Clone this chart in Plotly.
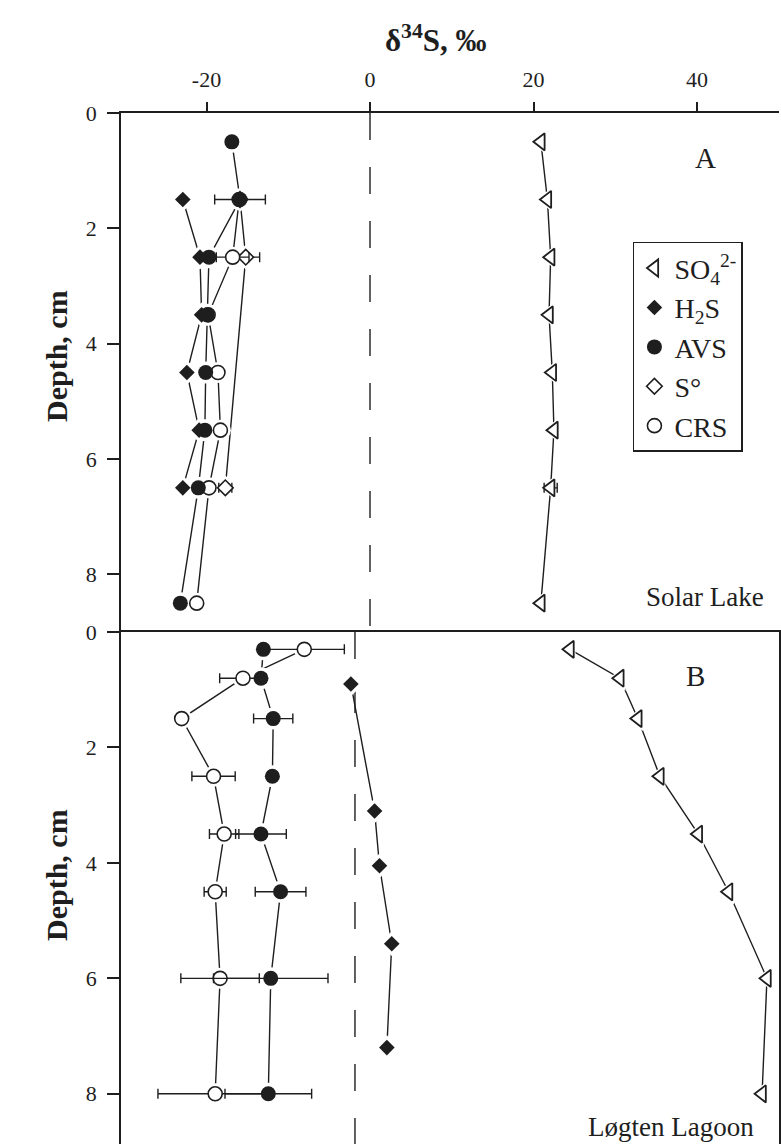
import plotly.graph_objects as go

# ---------------- Solar Lake (panel A) ----------------
depth_a_so4 = [0.5, 1.5, 2.5, 3.5, 4.5, 5.5, 6.5, 8.5]
so4_a = [20.9, 21.7, 22.1, 21.9, 22.3, 22.5, 22.1, 20.9]
so4_a_err = [0, 0, 0, 0, 0, 0, 0.8, 0]

depth_a_h2s = [1.5, 2.5, 3.5, 4.5, 5.5, 6.5]
h2s_a = [-22.9, -20.8, -20.6, -22.4, -20.9, -22.9]

depth_a_avs = [0.5, 1.5, 2.5, 3.5, 4.5, 5.5, 6.5, 8.5]
avs_a = [-16.9, -15.9, -19.7, -19.9, -20.1, -20.2, -21.0, -23.2]
avs_a_err = [0, 3.1, 0, 0, 0, 0, 0, 0]

depth_a_s0 = [1.5, 2.5, 6.5]
s0_a = [-15.9, -15.2, -17.7]
s0_a_err = [0, 1.7, 0.8]

depth_a_crs = [1.5, 2.5, 3.5, 4.5, 5.5, 6.5, 8.5]
crs_a = [-16.0, -16.8, -19.8, -18.6, -18.3, -19.7, -21.2]
crs_a_err = [0, 2.0, 0, 0, 0, 0, 0]

# ---------------- Løgten Lagoon (panel B) ----------------
depth_b = [0.3, 0.8, 1.5, 2.5, 3.5, 4.5, 6.0, 8.0]
so4_b = [26.3, 32.4, 34.6, 37.3, 42.0, 45.7, 50.4, 49.8]
avs_b = [-11.2, -11.5, -10.0, -10.1, -11.5, -9.1, -10.3, -10.6]
avs_b_err = [0, 0, 2.4, 0, 3.1, 3.1, 7.0, 5.3]
crs_b = [-6.2, -13.7, -21.2, -17.3, -16.0, -17.1, -16.5, -17.1]
crs_b_err = [4.9, 2.85, 0, 2.65, 1.8, 1.35, 4.8, 7.0]

depth_b_h2s = [0.9, 3.1, 4.05, 5.4, 7.2]
h2s_b = [-0.5, 2.4, 3.0, 4.5, 3.9]

# tick values and labels
x_ticks = [-20, 0, 20, 40]
x_tick_labels = ["-20", "0", "20", "40"]
depth_ticks = [0, 2, 4, 6, 8]

INK = "#1e1e1e"
SERIF = "Liberation Serif, Times New Roman, serif"

STYLE = {
    "SO4": dict(symbol="triangle-left", size=15, color="white", line=dict(color=INK, width=1.8)),
    "H2S": dict(symbol="diamond", size=12, color=INK, line=dict(color=INK, width=0)),
    "AVS": dict(symbol="circle", size=15, color=INK, line=dict(color=INK, width=0)),
    "S0": dict(symbol="diamond", size=12, color="white", line=dict(color=INK, width=1.6)),
    "CRS": dict(symbol="circle", size=14, color="white", line=dict(color=INK, width=1.6)),
}
NAMES = {
    "SO4": "SO<sub>4</sub><sup>2-</sup>",
    "H2S": "H<sub>2</sub>S",
    "AVS": "AVS",
    "S0": "S°",
    "CRS": "CRS",
}
RANK = {"SO4": 1, "H2S": 2, "AVS": 3, "S0": 4, "CRS": 5}

# (key, values, depths, errors, x-axis, y-axis)
series = [
    ("S0", s0_a, depth_a_s0, s0_a_err, "x", "y"),
    ("CRS", crs_a, depth_a_crs, crs_a_err, "x", "y"),
    ("SO4", so4_a, depth_a_so4, so4_a_err, "x", "y"),
    ("H2S", h2s_a, depth_a_h2s, None, "x", "y"),
    ("AVS", avs_a, depth_a_avs, avs_a_err, "x", "y"),
    ("CRS", crs_b, depth_b, crs_b_err, "x2", "y2"),
    ("SO4", so4_b, depth_b, None, "x2", "y2"),
    ("H2S", h2s_b, depth_b_h2s, None, "x2", "y2"),
    ("AVS", avs_b, depth_b, avs_b_err, "x2", "y2"),
]

fig = go.Figure()

# connecting lines
for key, vals, dep, err, xa, ya in series:
    fig.add_trace(go.Scatter(
        x=vals, y=dep, mode="lines", xaxis=xa, yaxis=ya,
        line=dict(color=INK, width=1.4), showlegend=False, hoverinfo="skip"))

# white halos leave a small gap between lines and symbols
for key, vals, dep, err, xa, ya in series:
    st = STYLE[key]
    fig.add_trace(go.Scatter(
        x=vals, y=dep, mode="markers", xaxis=xa, yaxis=ya,
        marker=dict(symbol=st["symbol"], size=st["size"] + 7, color="white",
                    line=dict(width=0)),
        showlegend=False, hoverinfo="skip"))

# symbols with horizontal error bars
shown = set()
for key, vals, dep, err, xa, ya in series:
    st = STYLE[key]
    err_cfg = dict(visible=False)
    if err is not None:
        err_cfg = dict(type="data", array=err, visible=True, color=INK,
                       thickness=1.4, width=5)
    fig.add_trace(go.Scatter(
        x=vals, y=dep, mode="markers", xaxis=xa, yaxis=ya,
        name=NAMES[key], legendrank=RANK[key],
        showlegend=key not in shown,
        marker=dict(symbol=st["symbol"], size=st["size"], color=st["color"], line=st["line"]),
        error_x=err_cfg))
    shown.add(key)

# zero reference lines
for xa, ya, ybot in [("x", "y", 9), ("x2", "y2", 8.87)]:
    fig.add_shape(type="line", xref=xa, yref=ya, x0=0, x1=0, y0=0, y1=ybot,
                  line=dict(color=INK, width=1.4, dash="27px,27px"), layer="below")

axis_common = dict(showgrid=False, zeroline=False, linecolor=INK, linewidth=1.5,
                   tickcolor=INK, tickwidth=1.5, tickfont=dict(family=SERIF, size=22, color=INK))

SPLIT = 0.4966

fig.update_layout(
    width=781, height=1144,
    margin=dict(l=121, r=2, t=113, b=0),
    paper_bgcolor="white", plot_bgcolor="white",
    font=dict(family=SERIF, size=22, color=INK),
    xaxis=dict(domain=[0, 1], range=[-30.46, 50.03], side="top", anchor="y",
               showline=True, ticks="outside", tickvals=x_ticks, ticktext=x_tick_labels,
               ticklen=9, ticklabelstandoff=6, **axis_common),
    yaxis=dict(domain=[SPLIT, 1], range=[9, 0], anchor="x", showline=True,
               ticks="outside", tickvals=depth_ticks, ticklen=12,
               ticklabelstandoff=6, **axis_common),
    xaxis2=dict(domain=[0, 1], range=[-28.62, 51.87], side="top", anchor="y2",
                showline=True, ticks="", showticklabels=False, **axis_common),
    yaxis2=dict(domain=[0, SPLIT], range=[8.87, 0], anchor="x2", showline=True,
                mirror=True, ticks="outside", tickvals=depth_ticks, ticklen=12,
                ticklabelstandoff=6, **axis_common),
    legend=dict(x=0.778, y=0.875, xanchor="left", yanchor="top",
                bordercolor=INK, borderwidth=1.5, bgcolor="white",
                font=dict(family=SERIF, size=28, color=INK),
                itemwidth=30, tracegroupgap=0, traceorder="normal"),
    showlegend=True,
)

# titles and panel labels
fig.add_annotation(text="<b>δ<sup>34</sup>S, ‰</b>", xref="paper", yref="paper",
                   x=0.4787, y=1.0727, showarrow=False, xanchor="center", yanchor="middle",
                   font=dict(family=SERIF, size=31, color=INK))
for ypos in (0.7643, 0.2609):
    fig.add_annotation(text="<b>Depth, cm</b>", xref="paper", yref="paper",
                       x=-0.0988, y=ypos, showarrow=False, textangle=-90,
                       xanchor="center", yanchor="middle",
                       font=dict(family=SERIF, size=30, color=INK))

fig.add_annotation(text="A", xref="x", yref="y", x=41.0, y=0.78, showarrow=False,
                   font=dict(family=SERIF, size=29, color=INK))
fig.add_annotation(text="Solar Lake", xref="x", yref="y", x=41.0, y=8.39, showarrow=False,
                   font=dict(family=SERIF, size=27, color=INK))
fig.add_annotation(text="B", xref="x2", yref="y2", x=41.6, y=0.76, showarrow=False,
                   font=dict(family=SERIF, size=29, color=INK))
fig.add_annotation(text="Løgten Lagoon", xref="x2", yref="y2", x=38.7, y=8.58, showarrow=False,
                   font=dict(family=SERIF, size=27, color=INK))

fig.write_html("out.html")
